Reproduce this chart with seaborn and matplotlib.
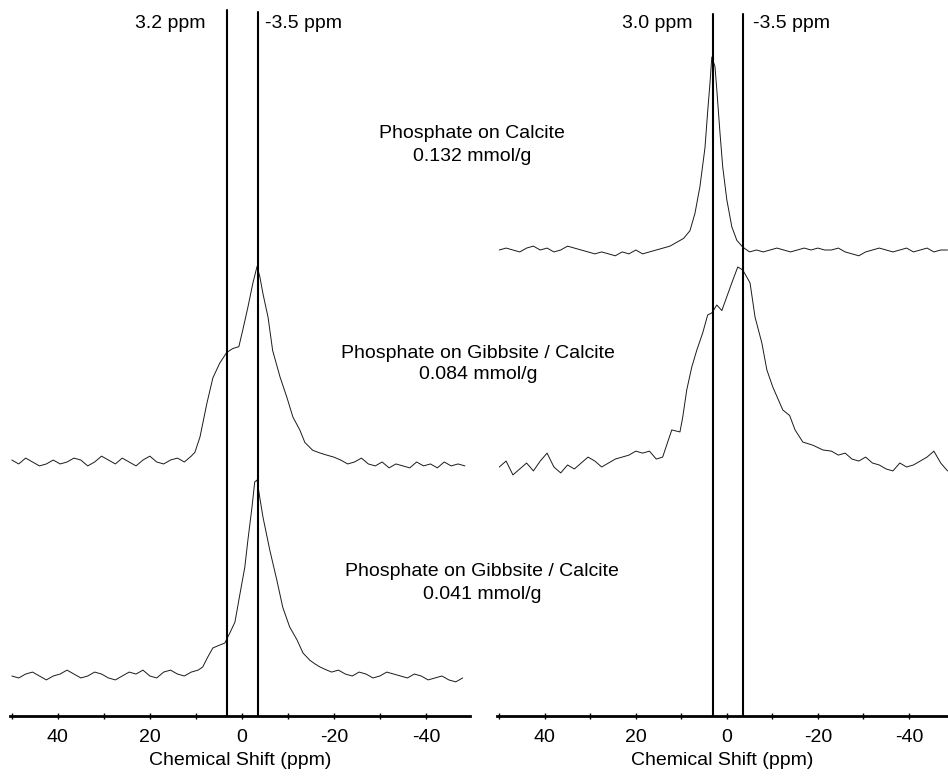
import matplotlib
matplotlib.use("Agg")
import matplotlib.pyplot as plt
import seaborn as sns
import numpy as np
from matplotlib.ticker import MultipleLocator

sns.set_theme(style="white")
plt.rcParams['font.family'] = ['Liberation Sans', 'DejaVu Sans']
plt.rcParams['text.color'] = 'black'

# ---------------- data (normalised intensity, peak = 100) ----------------
# Left panel, middle spectrum: Phosphate on Gibbsite / Calcite 0.084 mmol/g
lm_ppm = [50, 48.5, 47, 45.5, 44, 42.5, 41, 39.5, 38, 36.5, 35, 33.5, 32, 30.5, 29,
          27.5, 26, 24.5, 23, 21.5, 20, 18.5, 17, 15.5, 14, 12.5, 11,
          10.2, 9.1, 7.6, 6.3, 4.8, 3.3, 2.0, 0.65, -0.2, -1.3, -2.4, -3.3, -3.9, -4.6,
          -5.7, -6.7, -8.3, -9.8, -11.1, -12.6, -13.7, -15.4, -17.0, -18.5,
          -20, -21.5, -23, -24.5, -26, -27.5, -29, -30.5, -32, -33.5, -35, -36.5, -38,
          -39.5, -41, -42.5, -44, -45.5, -47, -48.5]
lm_int = [1, -1, 2, 0, -2, -1, 1, -1, 0, 2, 1, -2, 0, 3, 1,
          -1, 2, 0, -2, 1, 3, 0, -1, 1, 2, 0, 3,
          5, 12.8, 30, 43, 50.6, 56, 58, 59, 67.5, 79, 91.5, 100, 94.9, 86,
          74, 57, 43.5, 33, 23, 16.4, 10, 6, 4.6, 3.5,
          2.5, 1, -1, 0, 2, -1, -2, 0, -3, -1, -2, -3, 0,
          -2, -1, -3, 0, -2, -1, -2]

# Left panel, bottom spectrum: Phosphate on Gibbsite / Calcite 0.041 mmol/g
lb_ppm = [50, 48.5, 47, 45.5, 44, 42.5, 41, 39.5, 38, 36.5, 35, 33.5, 32, 30.5, 29,
          27.5, 26, 24.5, 23, 21.5, 20, 18.5, 17, 15.5, 14, 12.5, 11, 9.5,
          8.5, 7.4, 6.3, 4.8, 3.7, 2.6, 1.5, 0.4, -0.65, -1.3, -2.2, -2.8, -3.3, -3.9,
          -4.6, -6.1, -7.6, -8.9, -10.4, -12.0, -13.3, -14.8, -16.0, -17.0, -18.0,
          -19.5, -21, -22.5, -24, -25.5, -27, -28.5, -30, -31.5, -33, -34.5, -36,
          -37.5, -39, -40.5, -42, -43.5, -45, -46.5, -48]
lb_int = [0, -1, 1, 2, 0, -2, 0, 1, 3, 1, -1, 0, 2, 1, -1,
          -2, 0, 2, 1, 3, 0, -1, 2, 3, 1, 0, 2, 3,
          4.6, 9.7, 14.3, 15.8, 16.8, 22, 27.5, 42, 55.6, 69, 86, 99, 100, 91,
          81, 64, 49, 35, 25, 18.4, 11.7, 8, 6, 4.6, 3.5,
          2, 3, 1, 0, 2, 1, -1, 0, 2, 1, 0, -1, 1,
          0, -2, -1, 0, -2, -3, -1]

# Right panel, top spectrum: Phosphate on Calcite 0.132 mmol/g
rt_ppm = [50, 48.5, 47, 45.5, 44, 42.5, 41, 39.5, 38, 36.5, 35, 33.5, 32, 30.5, 29,
          27.5, 26, 24.5, 23, 21.5, 20, 18.5, 17, 15.5, 14, 12.5, 11, 9.5,
          8.1, 7.0, 5.9, 4.8, 4.2, 3.7, 3.3, 2.6, 2.2, 1.5, 0.9, 0.0, -1.1, -2.2, -3.5,
          -5, -6.5, -8, -9.5, -11, -12.5, -14, -15.5, -17, -18.5, -20, -21.5, -23,
          -24.5, -26, -27.5, -29, -30.5, -32, -33.5, -35, -36.5, -38, -39.5, -41,
          -42.5, -44, -45.5, -47, -48.5]
rt_int = [0, 1, 0, -1, 1, 2, 0, 1, -1, 0, 2, 1, 0, -1, -2,
          -1, -2, -3, -1, -2, 0, -2, -1, 0, 1, 2, 4, 6,
          10, 19, 33, 53, 72, 86.5, 100, 95, 83, 60.6, 43, 26, 12, 5, 1.5,
          -1, 0, -1, 0, 1, 0, -1, 0, 1, 0, 1, 0, 0,
          1, -1, -2, -3, -1, 0, 1, 0, -1, 0, 1, -1,
          0, 1, -1, 0, 0]

# Right panel, middle spectrum: Phosphate on Gibbsite / Calcite 0.084 mmol/g
rm_ppm = [50, 48.5, 47, 45.5, 44, 42.5, 41, 39.5, 38, 36.5, 35, 33.5, 32, 30.5, 29,
          27.5, 26, 24.5, 23, 21.5, 20, 18.5, 17, 15.5,
          14.1, 12.1, 10.3, 9.7, 8.8, 7.7, 6.6, 5.3, 4.2, 3.3, 2.2, 1.1, 0.0, -1.1,
          -2.4, -3.5, -5.1, -6.2, -7.7, -8.8, -10.1, -12.3, -13.8, -15.0, -16.7,
          -18.9, -21.1,
          -23, -24.5, -26, -27.5, -29, -30.5, -32, -33.5, -35, -36.5, -38, -39.5,
          -41, -42.5, -44, -45.5, -47, -48.5]
rm_int = [-1, 2, -5, -2, 1, -3, 2, 6, -1, -4, 0, -2, 1, 4, 2,
          -1, 1, 3, 4, 5, 7, 6, 7, 3,
          4, 17.7, 16.7, 24, 38, 49.5, 58, 66.7, 75.8, 76.8, 80.8, 78, 85, 92,
          100, 98.5, 92, 74.7, 61.6, 48, 39.4, 27.8, 25, 17.7, 11.6,
          10, 7.6,
          7, 5, 6, 3, 2, 4, 1, 0, -2, -3, 1, -1,
          0, 2, 4, 7, 1, -3]

ref_lines_left = [3.2, -3.5]
ref_lines_right = [3.0, -3.5]
ref_labels_left = ["3.2 ppm", "-3.5 ppm"]
ref_labels_right = ["3.0 ppm", "-3.5 ppm"]
tick_values = [40, 20, 0, -20, -40]
tick_labels = ["40", "20", "0", "-20", "-40"]
sample_labels = ["Phosphate on Calcite\n0.132 mmol/g",
                 "Phosphate on Gibbsite / Calcite\n0.084 mmol/g",
                 "Phosphate on Gibbsite / Calcite\n0.041 mmol/g"]

# ---------------- layout ----------------
W, H = 948, 780
fig = plt.figure(figsize=(W / 100, H / 100), dpi=100)
fig.patch.set_facecolor("white")


def add_axes(x0, x1, ytop, ybot):
    return fig.add_axes([x0 / W, (H - ybot) / H, (x1 - x0) / W, (ybot - ytop) / H])


axL = add_axes(10, 470, 5, 716)
axR = add_axes(497, 948, 5, 716)
axL.set_xlim(50.4, -49.6)
axR.set_xlim(50.5, -48.6)

line_color = "#1a1a1a"
# (ppm, intensity, axis, baseline offset, scale)
spectra = [
    (lm_ppm, lm_int, axL, 254, 1.955),
    (lb_ppm, lb_int, axL, 40, 1.96),
    (rt_ppm, rt_int, axR, 466, 1.93),
    (rm_ppm, rm_int, axR, 251, 1.98),
]
for ppm, inten, ax, off, sc in spectra:
    y = off + sc * np.asarray(inten, dtype=float)
    sns.lineplot(x=ppm, y=y, ax=ax, color=line_color, linewidth=0.7,
                 sort=False, estimator=None)

for ax in (axL, axR):
    ax.set_ylim(0, 711)
    ax.set_facecolor("white")
    for s in ("left", "top", "right"):
        ax.spines[s].set_visible(False)
    ax.spines["bottom"].set_linewidth(2.0)
    ax.spines["bottom"].set_color("black")
    ax.set_yticks([])
    ax.set_xticks(tick_values)
    ax.set_xticklabels(tick_labels)
    ax.xaxis.set_minor_locator(MultipleLocator(10))
    ax.tick_params(axis="x", which="major", direction="inout", length=5, width=1,
                   labelsize=14, pad=7, colors="black", labelcolor="black", bottom=True)
    ax.tick_params(axis="x", which="minor", direction="inout", length=4, width=1,
                   bottom=True, colors="black")
    ax.set_xlabel("Chemical Shift (ppm)", fontsize=14, labelpad=4, color="black")
    ax.set_ylabel("")
    ax.grid(False)

axL.axvline(ref_lines_left[0], ymin=0, ymax=(716 - 10) / 711, color="black", lw=1.5)
axL.axvline(ref_lines_left[1], ymin=0, ymax=(716 - 12) / 711, color="black", lw=1.5)
axR.axvline(ref_lines_right[0], ymin=0, ymax=(716 - 14) / 711, color="black", lw=1.5)
axR.axvline(ref_lines_right[1], ymin=0, ymax=(716 - 14) / 711, color="black", lw=1.5)

ylab = 716 - 24
axL.text(8.0, ylab, ref_labels_left[0], ha="right", va="center", fontsize=14, color="black")
axL.text(-5.0, ylab, ref_labels_left[1], ha="left", va="center", fontsize=14, color="black")
axR.text(7.5, ylab, ref_labels_right[0], ha="right", va="center", fontsize=14, color="black")
axR.text(-5.8, ylab, ref_labels_right[1], ha="left", va="center", fontsize=14, color="black")

for (xc, yc, ls), txt in zip([(472, 145, 1.5), (478, 364, 1.35), (482, 583, 1.4)],
                             sample_labels):
    fig.text(xc / W, 1 - yc / H, txt, ha="center", va="center", fontsize=14,
             linespacing=ls, color="black")

fig.savefig("out.png", dpi=100, facecolor="white")
